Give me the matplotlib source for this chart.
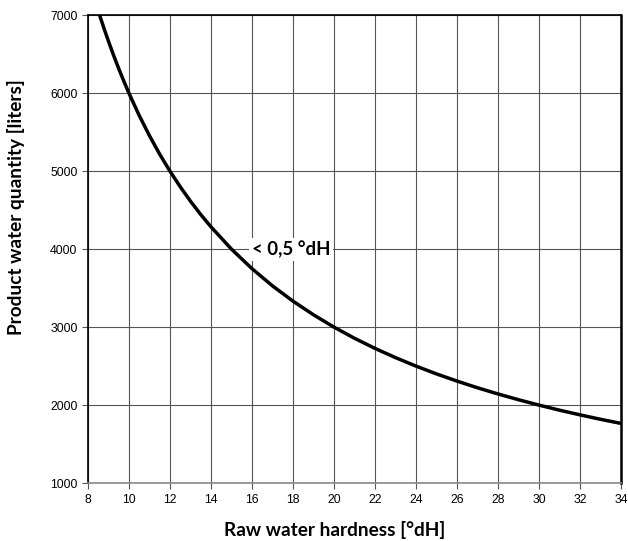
import matplotlib
matplotlib.use("Agg")
import matplotlib.pyplot as plt

hardness = [8.57, 8.8, 9, 9.25, 9.5, 9.75, 10, 10.5, 11, 11.5, 12, 12.5, 13, 13.5, 14, 15, 16, 17, 18, 19, 20, 21, 22, 23, 24, 25, 26, 27, 28, 29, 30, 31, 32, 33, 34]
quantity = [7000, 6818, 6667, 6486, 6316, 6154, 6000, 5714, 5455, 5217, 5000, 4800, 4615, 4444, 4286, 4000, 3750, 3529, 3333, 3158, 3000, 2857, 2727, 2609, 2500, 2400, 2308, 2222, 2143, 2069, 2000, 1935, 1875, 1818, 1765]
x_ticks = list(range(8, 35, 2))
y_ticks = list(range(1000, 7001, 1000))
curve_label = "< 0,5 °dH"

fig = plt.figure(figsize=(6.28, 5.41), dpi=100)
ax = fig.add_axes([0.140, 0.107, 0.849, 0.865])
ax.plot(hardness, quantity, color="black", lw=2.5, solid_capstyle="butt", solid_joinstyle="round", zorder=3)
ax.set_xlim(8, 34)
ax.set_ylim(1000, 7000)
ax.set_xticks(x_ticks)
ax.set_yticks(y_ticks)
ax.grid(True, color="#555555", lw=0.8)
ax.set_axisbelow(True)
for s in ["left", "top", "right"]:
    ax.spines[s].set_color("black")
    ax.spines[s].set_linewidth(1.2)
ax.spines["right"].set_linewidth(1.8)
ax.spines["bottom"].set_color("#888888")
ax.spines["bottom"].set_linewidth(1.2)
ax.tick_params(axis="both", labelsize=8.8, length=4, width=0.8, direction="out", color="#555555")
for lab in ax.get_xticklabels() + ax.get_yticklabels():
    lab.set_fontfamily("Liberation Sans")
fig.text(0.533, 0.020, "Raw water hardness [°dH]", fontsize=13.7, fontweight="bold", family="Lato",
         ha="center", va="center")
fig.text(0.025, 0.617, "Product water quantity [liters]", fontsize=13.7, fontweight="bold", family="Lato",
         ha="center", va="center", rotation=90)
ax.text(17.9, 3990, curve_label, fontsize=13.4, fontweight="bold", family="Lato",
        ha="center", va="center", zorder=4,
        bbox=dict(facecolor="white", edgecolor="none", pad=2))
fig.savefig("out.png", dpi=100)
